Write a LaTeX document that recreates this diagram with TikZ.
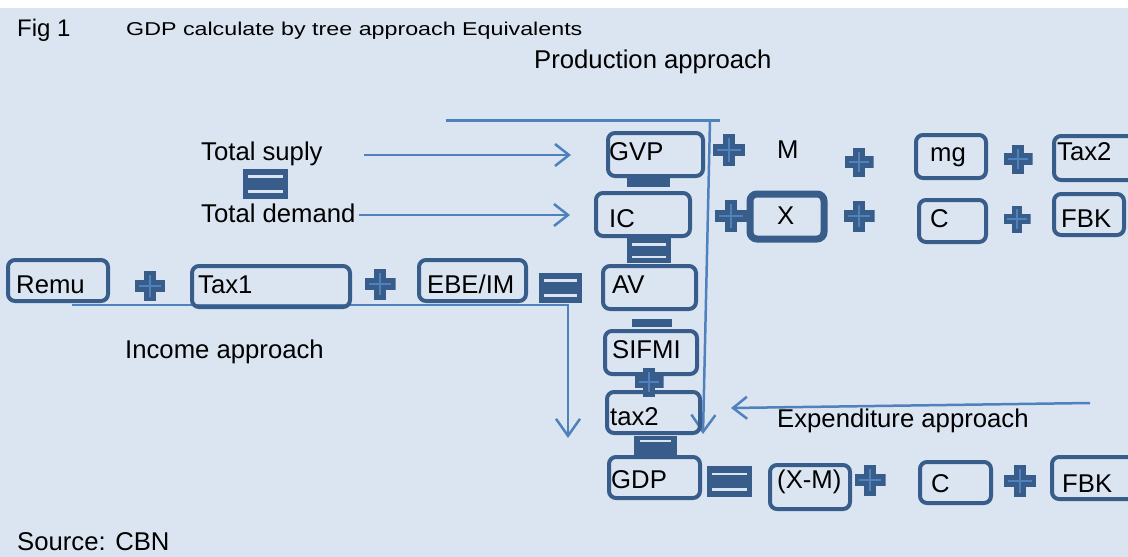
\documentclass[tikz,border=0pt]{standalone}
\usepackage{fontspec}
\setmainfont{Liberation Sans}
\usetikzlibrary{arrows.meta,calc}
\definecolor{bg}{RGB}{219,229,241}
\definecolor{dk}{RGB}{56,93,138}
\definecolor{ln}{RGB}{79,129,189}
\newcommand\boxat[6]{%
  \node[box,#6,minimum width={#4-#2-4},minimum height={#5-#3-4}] (#1) at ({(#2+#4)/2},{(#3+#5)/2}) {};}
\tikzset{
  box/.style={draw=dk,line width=4pt,rounded corners=7pt,inner sep=0pt},
  lbl/.style={font=\fontsize{25.7}{30}\selectfont,inner sep=0pt,anchor=base west,text=black},
  plussign/.style={inner sep=0pt,minimum width=#1,minimum height=#1,
    path picture={
      \fill[dk] ($(path picture bounding box.south west)!0.31!(path picture bounding box.north west)$)
        rectangle ($(path picture bounding box.south east)!0.69!(path picture bounding box.north east)$);
      \fill[dk] ($(path picture bounding box.south west)!0.31!(path picture bounding box.south east)$)
        rectangle ($(path picture bounding box.north west)!0.69!(path picture bounding box.north east)$);
      \draw[ln,line width=2.5pt] ($(path picture bounding box.west)!0.14!(path picture bounding box.east)$)
        -- ($(path picture bounding box.west)!0.86!(path picture bounding box.east)$);
      \draw[ln,line width=2.5pt] ($(path picture bounding box.north)!0.14!(path picture bounding box.south)$)
        -- ($(path picture bounding box.north)!0.86!(path picture bounding box.south)$);
    }},
  plussign/.default=30pt,
  eqsign/.style={fill=dk,inner sep=0pt,
    path picture={
      \draw[bg,line width=2.5pt,shorten <=5pt,shorten >=5pt]
        ($(path picture bounding box.north west)!0.25!(path picture bounding box.south west)$)
        -- ($(path picture bounding box.north east)!0.25!(path picture bounding box.south east)$);
      \draw[bg,line width=2.5pt,shorten <=5pt,shorten >=5pt]
        ($(path picture bounding box.north west)!0.75!(path picture bounding box.south west)$)
        -- ($(path picture bounding box.north east)!0.75!(path picture bounding box.south east)$);
    }},
  eqone/.style={fill=dk,inner sep=0pt,
    path picture={
      \draw[bg,line width=2pt,shorten <=6pt,shorten >=6pt]
        ($(path picture bounding box.north west)!0.22!(path picture bounding box.south west)$)
        -- ($(path picture bounding box.north east)!0.22!(path picture bounding box.south east)$);
    }},
  minussign/.style={fill=dk,inner sep=0pt},
  conn/.style={draw=ln,line width=2.5pt},
  arr/.style={draw=ln,line width=2.5pt,-{Straight Barb[length=14pt,width=22pt]}},
  arrdown/.style={draw=ln,line width=2.5pt,-{Straight Barb[length=17pt,width=24pt]}}
}
\newcommand\signat[6]{%
  \node[#6,minimum width={#4-#2},minimum height={#5-#3}] (#1) at ({(#2+#4)/2},{(#3+#5)/2}) {};}
\begin{document}
\begin{tikzpicture}[x=1pt,y=-1pt]
\fill[white] (0,0) rectangle (1128,557);
\fill[bg] (0,8) rectangle (1128,557);
\useasboundingbox (0,0) rectangle (1128,557);

% connectors
\coordinate (ph1) at (446,120);
\coordinate (ph2) at (720,120);
\coordinate (pv1) at (710,120);
\coordinate (pv2) at (703,434);
\draw[conn,line width=3pt] (ph1) -- (ph2);
\draw[arrdown] (pv1) -- (pv2);

\coordinate (i1) at (72,305);
\coordinate (i2) at (568,305);
\coordinate (i3) at (568,438);
\draw[arrdown] (i1) -- (i2) -- (i3);

\coordinate (ts1) at (364,155);
\coordinate (ts2) at (571,155);
\coordinate (td1) at (359,215);
\coordinate (td2) at (570,215);
\draw[arr] (ts1) -- (ts2);
\draw[arr] (td1) -- (td2);

\coordinate (ex1) at (1090,403);
\coordinate (ex2) at (731,408);
\draw[arr] (ex1) -- (ex2);

% texts
\node[lbl,font=\fontsize{24}{29}\selectfont] (fig) at (17,36) {Fig 1};
\node[lbl,font=\fontsize{18.6}{22}\selectfont] (title) at (126,35) {\scalebox{1.25}[1]{GDP calculate by tree approach Equivalents}};
\node[lbl] (prod) at (534,68) {Production approach};
\node[lbl] (tsup) at (201,160) {Total suply};
\node[lbl] (tdem) at (201,222) {Total demand};
\node[lbl] (inc) at (125,358) {Income approach};
\node[lbl] (exp) at (777,427) {Expenditure approach};
\node[lbl] (src) at (17,550) {Source: CBN};

% boxes
\boxat{gvp}{606}{131}{705}{178}{}
\boxat{ic}{594}{191}{692}{238}{}
\boxat{x}{748}{192}{826}{241}{line width=7pt}
\boxat{mg}{914}{133}{988}{180}{}
\boxat{taxb}{1052}{134}{1140}{182}{}
\boxat{c1}{917}{198}{988}{244}{}
\boxat{fbk1}{1052}{192}{1126}{237}{}
\boxat{remu}{6}{258}{110}{303}{}
\boxat{tax1}{190}{264}{352}{309}{}
\boxat{ebe}{417}{258}{528}{303}{}
\boxat{av}{601}{264}{698}{311}{}
\boxat{sifmi}{603}{329}{699}{376}{}
\boxat{taxs}{605}{390}{702}{435}{}
\boxat{gdp}{607}{455}{702}{500}{}
\boxat{xm}{768}{463}{852}{511}{}
\boxat{c2}{918}{460}{993}{505}{}
\boxat{fbk2}{1050}{455}{1140}{501}{}

% box labels
\node[lbl] (gvpt) at (609,160) {GVP};
\node[lbl] (ict) at (609,227) {IC};
\node[lbl] (mt) at (777,158) {M};
\node[lbl] (xt) at (777,224) {X};
\node[lbl] (mgt) at (930,161) {mg};
\node[lbl] (taxbt) at (1057,160) {Tax2};
\node[lbl] (c1t) at (930,227) {C};
\node[lbl] (fbk1t) at (1061,227) {FBK};
\node[lbl] (remut) at (16,293) {Remu};
\node[lbl] (tax1t) at (198,293) {Tax1};
\node[lbl] (ebet) at (427,293) {EBE/IM};
\node[lbl] (avt) at (612,293) {AV};
\node[lbl] (sifmit) at (612,358) {SIFMI};
\node[lbl] (taxst) at (610,425) {tax2};
\node[lbl] (gdpt) at (611,488) {GDP};
\node[lbl] (xmt) at (777,488) {(X-M)};
\node[lbl] (c2t) at (931,492) {C};
\node[lbl] (fbk2t) at (1062,492) {FBK};

% operator signs
\node[plussign=32pt] (p1) at (729,150) {};
\node[plussign=29pt] (p2) at (859,162) {};
\node[plussign=29pt] (p3) at (1018,159) {};
\node[plussign=32pt] (p4) at (731,216) {};
\node[plussign=31pt] (p5) at (859,216) {};
\node[plussign=27pt] (p6) at (1017,219) {};
\node[plussign=30pt] (p7) at (150,286) {};
\node[plussign=31pt] (p8) at (380,284) {};
\node[plussign=29pt] (p9) at (649,382) {};
\node[plussign=31pt] (p10) at (870,480) {};
\node[plussign=32pt] (p11) at (1020,481) {};

\signat{e1}{243}{169}{288}{199}{eqsign}
\signat{e2}{627}{238}{671}{263}{eqsign}
\signat{e3}{539}{273}{582}{303}{eqsign}
\signat{e4}{634}{436}{677}{458}{eqone}
\signat{e5}{707}{466}{752}{497}{eqsign}
\signat{m1}{627}{178}{670}{187}{minussign}
\signat{m2}{632}{319}{672}{327}{minussign}
\end{tikzpicture}
\end{document}
